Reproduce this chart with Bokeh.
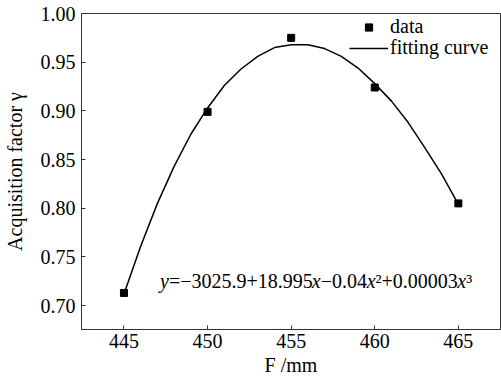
import math
from bokeh.plotting import figure
from bokeh.models import (FixedTicker, NumeralTickFormatter, Label, Range1d,
                          Legend, LegendItem)
from bokeh.embed import file_html
from bokeh.resources import INLINE

# ---- data ----
data_x = [445, 450, 455, 460, 465]
data_y = [0.713, 0.899, 0.975, 0.924, 0.805]

curve_x = [445, 446, 447, 448, 449, 450, 451, 452, 453, 454, 455,
           456, 457, 458, 459, 460, 461, 462, 463, 464, 465]
curve_y = [0.712, 0.761, 0.805, 0.843, 0.876, 0.903, 0.926, 0.943, 0.956, 0.965,
           0.968, 0.968, 0.964, 0.956, 0.944, 0.928, 0.910, 0.888, 0.862, 0.835,
           0.804]

x_ticks = [445, 450, 455, 460, 465]
y_ticks = [0.70, 0.75, 0.80, 0.85, 0.90, 0.95, 1.00]

FONT = "Liberation Serif"
FS = "20px"

p = figure(width=501, height=378, output_backend="svg", toolbar_location=None,
           x_range=Range1d(442.46, 467.52), y_range=Range1d(0.6755, 1.0),
           min_border_left=79, min_border_right=1, min_border_top=13,
           min_border_bottom=47)
p.grid.visible = False
p.background_fill_color = "white"
p.border_fill_color = "white"
p.outline_line_color = "#333333"
p.outline_line_width = 1

line_r = p.line(curve_x, curve_y, line_color="black", line_width=1.5,
                line_join="round")
pts_r = p.scatter(data_x, data_y, marker="square", size=7, color="black")

for ax in (p.xaxis[0], p.yaxis[0]):
    ax.axis_line_color = "#333333"
    ax.major_tick_line_color = "#333333"
    ax.major_tick_in = 4
    ax.major_tick_out = 0
    ax.minor_tick_line_color = None
    ax.major_label_text_font = FONT
    ax.major_label_text_font_size = FS
    ax.major_label_text_color = "black"
    ax.axis_label_text_font = FONT
    ax.axis_label_text_font_size = FS
    ax.axis_label_text_font_style = "normal"
    ax.axis_label_text_color = "black"

p.xaxis[0].ticker = FixedTicker(ticks=x_ticks)
p.yaxis[0].ticker = FixedTicker(ticks=y_ticks)
p.yaxis[0].formatter = NumeralTickFormatter(format="0.00")
p.xaxis[0].major_label_standoff = 4
p.yaxis[0].major_label_standoff = 6
p.xaxis[0].axis_label = "F /mm"
p.yaxis[0].axis_label = "Acquisition factor γ"
p.xaxis[0].axis_label_standoff = 3
p.yaxis[0].axis_label_standoff = 12

# legend: one legend per row to control the row pitch
def make_legend(label, renderer, loc):
    lg = Legend(items=[LegendItem(label=label, renderers=[renderer])],
                location=loc, orientation="vertical")
    lg.border_line_color = None
    lg.background_fill_alpha = 0
    lg.padding = 0
    lg.margin = 0
    lg.spacing = 0
    lg.glyph_width = 39
    lg.glyph_height = 18
    lg.label_height = 18
    lg.label_standoff = 2
    lg.label_text_font = FONT
    lg.label_text_font_size = FS
    lg.label_text_color = "black"
    return lg

p.add_layout(make_legend("data", pts_r, (268, 291)), "center")
p.add_layout(make_legend("fitting curve", line_r, (268, 270)), "center")

def dx(px):
    return 445 + (px - 121.7) / 16.82

def dy(py):
    return 0.70 + (307 - py) / 980.0

# equation pieces (advance widths in em, Liberation Serif)
eq_fs = 20
pieces = [("y", "italic", 0.444), ("=−3025.9+18.995", "normal", 7.192),
          ("x", "italic", 0.444), ("−0.04", "normal", 2.314),
          ("x", "italic", 0.444), ("²+0.00003", "normal", 4.114),
          ("x", "italic", 0.444), ("³", "normal", 0.3)]
cur = 158.0
for txt, style, em in pieces:
    p.add_layout(Label(x=dx(cur), y=dy(282), text=txt, text_align="left",
                       text_baseline="alphabetic", text_font=FONT,
                       text_font_style=style, text_font_size=f"{eq_fs}px",
                       text_color="black"))
    cur += em * eq_fs

open("out.html", "w").write(file_html(p, INLINE))
